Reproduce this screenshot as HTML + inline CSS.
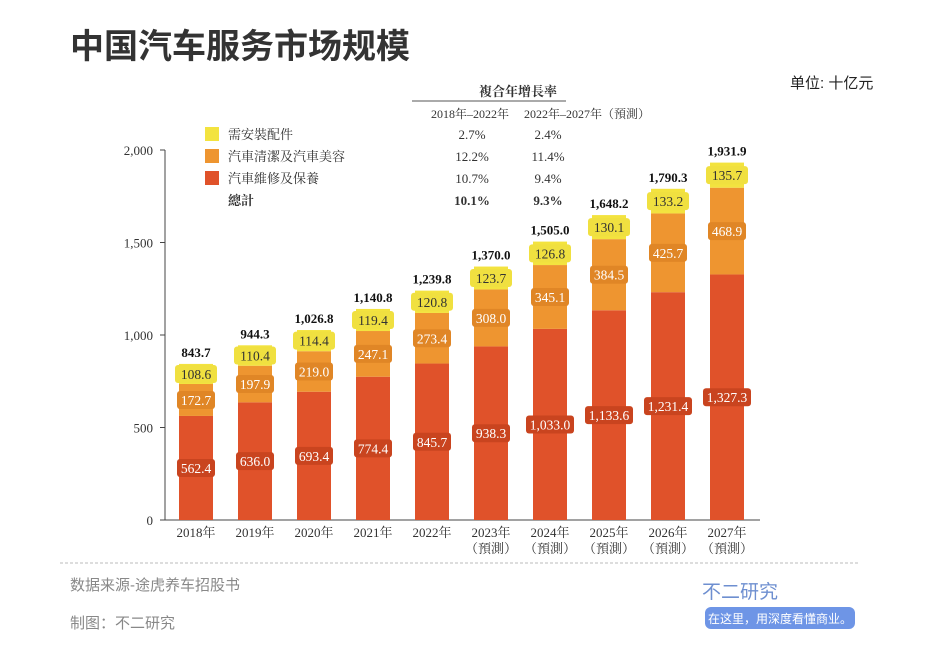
<!DOCTYPE html>
<html><head><meta charset="utf-8"><style>
body{margin:0;width:940px;height:644px;background:#fff;overflow:hidden;font-family:"Liberation Serif","Noto Serif CJK SC",serif}
.s{font-family:"Liberation Sans","Noto Sans CJK SC",sans-serif}
</style></head><body>
<svg width="940" height="644" xmlns="http://www.w3.org/2000/svg">
<text x="70" y="58" class="s" font-size="34" font-weight="bold" fill="#333">中国汽车服务市场规模</text>
<text x="790" y="88" class="s" font-size="15" fill="#222">单位: 十亿元</text>
<g id="legend" font-size="13" fill="#333">
<rect x="205" y="127" width="14" height="14" fill="#F3E33F"/>
<text x="228" y="139">需安裝配件</text>
<rect x="205" y="149" width="14" height="14" fill="#EE9530"/>
<text x="228" y="161">汽車清潔及汽車美容</text>
<rect x="205" y="171" width="14" height="14" fill="#E0522A"/>
<text x="228" y="183">汽車維修及保養</text>
<text x="228" y="205" font-weight="bold">總計</text>
</g>
<g font-size="13" fill="#333" text-anchor="middle">
<text x="518" y="96" font-weight="bold" font-size="13">複合年增長率</text>
<line x1="412" y1="101" x2="566" y2="101" stroke="#555"/>
<text x="470" y="118" font-size="12">2018年–2022年</text>
<text x="587" y="118" font-size="12">2022年–2027年（預測）</text>
<text x="472" y="139">2.7%</text><text x="548" y="139">2.4%</text>
<text x="472" y="161">12.2%</text><text x="548" y="161">11.4%</text>
<text x="472" y="183">10.7%</text><text x="548" y="183">9.4%</text>
<text x="472" y="205" font-weight="bold">10.1%</text><text x="548" y="205" font-weight="bold">9.3%</text>
</g>
<g id="axes"></g>
<g id="bars"></g>
<line x1="60" y1="563" x2="860" y2="563" stroke="#bbb" stroke-dasharray="3,2"/>
<text x="70" y="590" class="s" font-size="15" fill="#888">数据来源-途虎养车招股书</text>
<text x="70" y="628" class="s" font-size="15" fill="#888">制图：不二研究</text>
<text x="740" y="598" class="s" font-size="19" fill="#6e8fd0" text-anchor="middle">不二研究</text>
<rect x="705" y="607" width="150" height="22" rx="6" fill="#6e95e6"/>
<text x="780" y="623" class="s" font-size="12" fill="#fff" text-anchor="middle">在这里，用深度看懂商业。</text>
</svg>
<script>
const years=["2018年","2019年","2020年","2021年","2022年","2023年","2024年","2025年","2026年","2027年"];
const forecast=[0,0,0,0,0,1,1,1,1,1];
const repair=[562.4,636.0,693.4,774.4,845.7,938.3,1033.0,1133.6,1231.4,1327.3];
const cleaning=[172.7,197.9,219.0,247.1,273.4,308.0,345.1,384.5,425.7,468.9];
const accessories=[108.6,110.4,114.4,119.4,120.8,123.7,126.8,130.1,133.2,135.7];
const totals=[843.7,944.3,1026.8,1140.8,1239.8,1370.0,1505.0,1648.2,1790.3,1931.9];
const yTicks=[0,500,1000,1500,2000];
const NS="http://www.w3.org/2000/svg";
const y0=520,pxPer=0.185,x0=196,step=59,bw=34;
const Y=v=>y0-v*pxPer, X=i=>x0+i*step;
const fmt=v=>v.toLocaleString('en-US',{minimumFractionDigits:1,maximumFractionDigits:1});
function mk(p,t,a){const e=document.createElementNS(NS,t);for(const k in a)e.setAttribute(k,a[k]);p.appendChild(e);return e;}
const ax=document.getElementById('axes'),bg=document.getElementById('bars');
let l=mk(ax,'line',{x1:165,y1:Y(2000),x2:165,y2:y0,stroke:'#444'});


l=mk(ax,'line',{x1:165,y1:y0,x2:760,y2:y0,stroke:'#444'});


yTicks.forEach(v=>{
 mk(ax,'line',{x1:160,y1:Y(v),x2:165,y2:Y(v),stroke:'#444'});
 const t=mk(ax,'text',{x:153,y:Y(v)+5,'text-anchor':'end','font-size':13,fill:'#333'});
 t.textContent=fmt(v).replace('.0','');
 
 
});
function label(x,yc,txt,fill,col,w){
 if(txt.length>5)w=48;
 const r=mk(bg,'rect',{x:x-w/2,y:yc-9,width:w,height:18,rx:3,fill:fill});
 
 
 const t=mk(bg,'text',{x:x,y:yc+5,'text-anchor':'middle','font-size':13.5,fill:col});
 t.textContent=txt;
 
 
}
years.forEach((yr,i)=>{
 const x=X(i);
 const a=repair[i],b=a+cleaning[i],c=b+accessories[i];
 let r=mk(bg,'rect',{x:x-bw/2,y:Y(a),width:bw,height:Y(0)-Y(a),fill:'#E0522A'});
 
 
 r=mk(bg,'rect',{x:x-bw/2,y:Y(b),width:bw,height:Y(a)-Y(b),fill:'#EE9530'});
 
 
 r=mk(bg,'rect',{x:x-bw/2,y:Y(c),width:bw,height:Y(b)-Y(c),fill:'#F3E33F'});
 
 
 label(x,Y(a/2),fmt(repair[i]),'#C9441F','#fff',38);
 label(x,Y(a+cleaning[i]/2),fmt(cleaning[i]),'#E08626','#fff',38);
 label(x,Y(b+accessories[i]/2),fmt(accessories[i]),'#F0E040','#333',42);
 const t=mk(bg,'text',{x:x,y:Y(c)-7,'text-anchor':'middle','font-size':13,'font-weight':'bold',fill:'#111'});
 t.textContent=fmt(totals[i]);
 
 
 const xl=mk(bg,'text',{x:x,y:537,'text-anchor':'middle','font-size':13,fill:'#333'});
 xl.textContent=yr;
 
 
 if(forecast[i]){
  const f=mk(bg,'text',{x:x,y:553,'text-anchor':'middle','font-size':13,fill:'#333'});
  f.textContent='（預測）';
  
  
 }
});
</script>
</body></html>
